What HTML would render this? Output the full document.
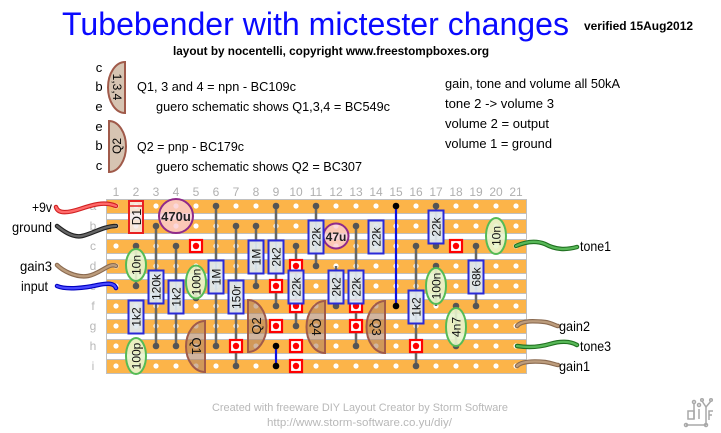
<!DOCTYPE html>
<html><head><meta charset="utf-8"><style>
html,body{margin:0;padding:0;background:#fff;}
svg{display:block;}
text{font-family:"Liberation Sans",Arial,sans-serif;}
</style></head><body>
<svg width="721" height="433" viewBox="0 0 721 433" xmlns="http://www.w3.org/2000/svg">
<rect width="721" height="433" fill="#fff"/>

<!-- Header -->
<text x="62" y="35" font-size="32" fill="#0a0aff" textLength="507" lengthAdjust="spacingAndGlyphs">Tubebender with mictester changes</text>
<text x="584" y="30" font-size="12" font-weight="bold" fill="#000" textLength="109" lengthAdjust="spacingAndGlyphs">verified 15Aug2012</text>
<text x="173" y="55" font-size="12" font-weight="bold" fill="#000" textLength="316" lengthAdjust="spacingAndGlyphs">layout by nocentelli, copyright www.freestompboxes.org</text>

<!-- Legend -->
<g font-size="13" fill="#000" text-anchor="middle">
<text x="99" y="72">c</text><text x="99" y="91">b</text><text x="99" y="111">e</text>
<text x="99" y="131">e</text><text x="99" y="150">b</text><text x="99" y="170">c</text>
</g>
<path d="M125,62 A17,25.5 0 0 0 125,113 Z" fill="#d6c4b2" stroke="#a05a4a" stroke-width="2"/>
<text transform="translate(117,87) rotate(90)" font-size="12" text-anchor="middle" y="4">1,3,4</text>
<path d="M109,121 A17,25.5 0 0 1 109,172 Z" fill="#d6c4b2" stroke="#a05a4a" stroke-width="2"/>
<text transform="translate(117,146) rotate(-90)" font-size="12" text-anchor="middle" y="4">Q2</text>
<g font-size="13" fill="#000">
<text x="137" y="91" textLength="159" lengthAdjust="spacingAndGlyphs">Q1, 3 and 4 = npn - BC109c</text>
<text x="156" y="111" textLength="234" lengthAdjust="spacingAndGlyphs">guero schematic shows Q1,3,4 = BC549c</text>
<text x="137" y="151" textLength="107" lengthAdjust="spacingAndGlyphs">Q2 = pnp - BC179c</text>
<text x="156" y="171" textLength="206" lengthAdjust="spacingAndGlyphs">guero schematic shows Q2 = BC307</text>
<text x="445" y="88" textLength="175" lengthAdjust="spacingAndGlyphs">gain, tone and volume all 50kA</text>
<text x="445" y="108" textLength="109" lengthAdjust="spacingAndGlyphs">tone 2 -&gt; volume 3</text>
<text x="445" y="128" textLength="104" lengthAdjust="spacingAndGlyphs">volume 2 = output</text>
<text x="445" y="148" textLength="107" lengthAdjust="spacingAndGlyphs">volume 1 = ground</text>
</g>

<!-- Column labels -->
<g font-size="12" fill="#b0b0b0" text-anchor="middle">
<text x="116" y="196">1</text><text x="136" y="196">2</text><text x="156" y="196">3</text><text x="176" y="196">4</text><text x="196" y="196">5</text><text x="216" y="196">6</text><text x="236" y="196">7</text><text x="256" y="196">8</text><text x="276" y="196">9</text><text x="296" y="196">10</text><text x="316" y="196">11</text><text x="336" y="196">12</text><text x="356" y="196">13</text><text x="376" y="196">14</text><text x="396" y="196">15</text><text x="416" y="196">16</text><text x="436" y="196">17</text><text x="456" y="196">18</text><text x="476" y="196">19</text><text x="496" y="196">20</text><text x="516" y="196">21</text>
</g>
<g font-size="12" fill="#b8b8b8" text-anchor="middle">
<text x="93" y="210">a</text><text x="93" y="230">b</text><text x="93" y="250">c</text><text x="93" y="270">d</text><text x="93" y="290">e</text><text x="93" y="310">f</text><text x="93" y="330">g</text><text x="93" y="350">h</text><text x="93" y="370">i</text>
</g>

<!-- Board -->
<rect x="106.5" y="199.5" width="420" height="173" fill="#fff" stroke="#c0c0c0" stroke-width="1"/>
<g fill="#fcb449" stroke="#c0c0c0" stroke-width="1">
<rect x="106.5" y="199.5" width="420" height="14"/>
<rect x="106.5" y="219.5" width="420" height="14"/>
<rect x="106.5" y="239.5" width="420" height="14"/>
<rect x="106.5" y="259.5" width="420" height="14"/>
<rect x="106.5" y="279.5" width="420" height="14"/>
<rect x="106.5" y="299.5" width="420" height="14"/>
<rect x="106.5" y="319.5" width="420" height="14"/>
<rect x="106.5" y="339.5" width="420" height="14"/>
<rect x="106.5" y="359.5" width="420" height="14"/>
</g>
<!-- Holes -->
<defs>
<g id="hrow">
<circle cx="116" cy="0" r="2.6"/><circle cx="136" cy="0" r="2.6"/><circle cx="156" cy="0" r="2.6"/><circle cx="176" cy="0" r="2.6"/><circle cx="196" cy="0" r="2.6"/><circle cx="216" cy="0" r="2.6"/><circle cx="236" cy="0" r="2.6"/><circle cx="256" cy="0" r="2.6"/><circle cx="276" cy="0" r="2.6"/><circle cx="296" cy="0" r="2.6"/><circle cx="316" cy="0" r="2.6"/><circle cx="336" cy="0" r="2.6"/><circle cx="356" cy="0" r="2.6"/><circle cx="376" cy="0" r="2.6"/><circle cx="396" cy="0" r="2.6"/><circle cx="416" cy="0" r="2.6"/><circle cx="436" cy="0" r="2.6"/><circle cx="456" cy="0" r="2.6"/><circle cx="476" cy="0" r="2.6"/><circle cx="496" cy="0" r="2.6"/><circle cx="516" cy="0" r="2.6"/>
</g>
</defs>
<g fill="#fff">
<use href="#hrow" y="206"/><use href="#hrow" y="226"/><use href="#hrow" y="246"/><use href="#hrow" y="266"/><use href="#hrow" y="286"/><use href="#hrow" y="306"/><use href="#hrow" y="326"/><use href="#hrow" y="346"/><use href="#hrow" y="366"/>
</g>

<!-- Leads -->
<g stroke="#666" stroke-width="2.5">
<line x1="156" y1="226" x2="156" y2="346"/>
<line x1="176" y1="246" x2="176" y2="346"/>
<line x1="216" y1="206" x2="216" y2="346"/>
<line x1="236" y1="226" x2="236" y2="366"/>
<line x1="256" y1="226" x2="256" y2="286"/>
<line x1="276" y1="206" x2="276" y2="306"/>
<line x1="296" y1="246" x2="296" y2="326"/>
<line x1="316" y1="206" x2="316" y2="266"/>
<line x1="336" y1="266" x2="336" y2="306"/>
<line x1="356" y1="226" x2="356" y2="346"/>
<line x1="376" y1="226" x2="376" y2="246"/>
<line x1="416" y1="246" x2="416" y2="366"/>
<line x1="436" y1="206" x2="436" y2="246"/>
<line x1="476" y1="246" x2="476" y2="306"/>
<line x1="136" y1="246" x2="136" y2="286"/>
<line x1="196" y1="266" x2="196" y2="298"/>
<line x1="436" y1="266" x2="436" y2="306"/>
<line x1="456" y1="306" x2="456" y2="346"/>
</g>
<g fill="#555">
<circle cx="156" cy="226" r="3.3"/><circle cx="156" cy="346" r="3.3"/>
<circle cx="176" cy="246" r="3.3"/><circle cx="176" cy="346" r="3.3"/>
<circle cx="216" cy="206" r="3.3"/><circle cx="216" cy="346" r="3.3"/>
<circle cx="236" cy="226" r="3.3"/><circle cx="236" cy="366" r="3.3"/>
<circle cx="256" cy="226" r="3.3"/><circle cx="256" cy="286" r="3.3"/>
<circle cx="276" cy="206" r="3.3"/><circle cx="276" cy="306" r="3.3"/>
<circle cx="296" cy="246" r="3.3"/><circle cx="296" cy="326" r="3.3"/>
<circle cx="316" cy="206" r="3.3"/><circle cx="316" cy="266" r="3.3"/>
<circle cx="336" cy="306" r="3.3"/>
<circle cx="356" cy="226" r="3.3"/><circle cx="356" cy="346" r="3.3"/>
<circle cx="416" cy="246" r="3.3"/><circle cx="416" cy="366" r="3.3"/>
<circle cx="436" cy="206" r="3.3"/><circle cx="436" cy="246" r="3.3"/>
<circle cx="476" cy="246" r="3.3"/><circle cx="476" cy="306" r="3.3"/>
<circle cx="136" cy="246" r="3.3"/><circle cx="136" cy="286" r="3.3"/>
<circle cx="196" cy="298" r="3.3"/>
<circle cx="436" cy="266" r="3.3"/>
<circle cx="456" cy="306" r="3.3"/><circle cx="456" cy="346" r="3.3"/>
</g>

<!-- Track cuts -->
<defs>
<g id="cut"><rect x="-6" y="-6" width="12" height="12" fill="#fff" stroke="#f00" stroke-width="2.2"/><circle r="3.2" fill="#f00"/></g>
</defs>
<use href="#cut" x="196" y="246"/>
<use href="#cut" x="236" y="346"/>
<use href="#cut" x="276" y="286"/>
<use href="#cut" x="276" y="326"/>
<use href="#cut" x="296" y="266"/>
<use href="#cut" x="296" y="306"/>
<use href="#cut" x="296" y="346"/>
<use href="#cut" x="296" y="366"/>
<use href="#cut" x="356" y="306"/>
<use href="#cut" x="356" y="326"/>
<use href="#cut" x="416" y="346"/>
<use href="#cut" x="456" y="246"/>

<!-- Jumpers -->
<g stroke="#1010e0" stroke-width="2.2"><line x1="276" y1="346" x2="276" y2="366"/><line x1="396" y1="206" x2="396" y2="306"/></g>
<g fill="#000"><circle cx="276" cy="346" r="3.3"/><circle cx="276" cy="366" r="3.3"/><circle cx="396" cy="206" r="3.3"/><circle cx="396" cy="306" r="3.3"/></g>

<!-- Transistors -->
<g fill="rgba(180,135,100,0.62)" stroke="#a05a4a" stroke-width="2">
<path d="M205,321 A19,25.5 0 0 0 205,372 Z"/>
<path d="M248,300 A18.5,26 0 0 1 248,352 Z"/>
<path d="M325,301 A18.5,26 0 0 0 325,353 Z"/>
<path d="M385,301 A18.5,26 0 0 0 385,353 Z"/>
</g>
<g font-size="13" fill="#111" text-anchor="middle">
<text transform="translate(197,346) rotate(90)" y="5">Q1</text>
<text transform="translate(256,326) rotate(-90)" y="5">Q2</text>
<text transform="translate(317,327) rotate(90)" y="5">Q4</text>
<text transform="translate(377,327) rotate(90)" y="5">Q3</text>
</g>

<!-- Diode -->
<rect x="129" y="201" width="14" height="32" fill="rgba(245,235,235,0.85)" stroke="#e82020" stroke-width="2"/>
<line x1="130" y1="206" x2="142" y2="206" stroke="#e82020" stroke-width="1.5"/>
<text transform="translate(136,217) rotate(-90)" font-size="13" text-anchor="middle" y="5" fill="#111">D1</text>

<!-- Electrolytics -->
<circle cx="176" cy="216" r="17" fill="rgba(250,205,210,0.8)" stroke="#902a8a" stroke-width="2"/>
<text x="176" y="221" font-size="13" font-weight="bold" text-anchor="middle" fill="#222">470u</text>
<circle cx="336" cy="236" r="12.5" fill="rgba(250,205,210,0.8)" stroke="#902a8a" stroke-width="2"/>
<text x="336" y="241" font-size="12" font-weight="bold" text-anchor="middle" fill="#222">47u</text>

<!-- Ceramic caps -->
<g fill="rgba(232,244,205,0.9)" stroke="#55bb55" stroke-width="2">
<ellipse cx="136" cy="265" rx="10" ry="16"/>
<ellipse cx="136" cy="356" rx="10" ry="18"/>
<ellipse cx="196" cy="282" rx="10" ry="16.5"/>
<ellipse cx="436" cy="286" rx="10" ry="18"/>
<ellipse cx="456" cy="327" rx="10" ry="19"/>
<ellipse cx="496" cy="236" rx="10" ry="18"/>
</g>
<g font-size="12" fill="#111" text-anchor="middle">
<text transform="translate(136,265) rotate(-90)" y="4.5">10n</text>
<text transform="translate(136,356) rotate(-90)" y="4.5">100p</text>
<text transform="translate(196,282) rotate(-90)" y="4.5">100n</text>
<text transform="translate(436,286) rotate(-90)" y="4.5">100n</text>
<text transform="translate(456,327) rotate(-90)" y="4.5">4n7</text>
<text transform="translate(496,236) rotate(-90)" y="4.5">10n</text>
</g>

<!-- Resistors -->
<g fill="rgba(222,232,240,0.92)" stroke="#2a2ad8" stroke-width="2">
<rect x="128.5" y="300.5" width="15" height="33"/>
<rect x="148.5" y="270.5" width="15" height="33"/>
<rect x="168.5" y="280.5" width="15" height="33"/>
<rect x="208.5" y="260.5" width="15" height="33"/>
<rect x="228.5" y="280.5" width="15" height="33"/>
<rect x="248.5" y="240.5" width="15" height="33"/>
<rect x="268.5" y="240.5" width="15" height="33"/>
<rect x="288.5" y="270.5" width="15" height="33"/>
<rect x="308.5" y="220.5" width="15" height="33"/>
<rect x="328.5" y="270.5" width="15" height="33"/>
<rect x="348.5" y="270.5" width="15" height="33"/>
<rect x="368.5" y="220.5" width="15" height="33"/>
<rect x="408.5" y="290.5" width="15" height="33"/>
<rect x="428.5" y="210.5" width="15" height="33"/>
<rect x="468.5" y="260.5" width="15" height="33"/>
</g>
<g font-size="12" fill="#111" text-anchor="middle">
<text transform="translate(136,317) rotate(-90)" y="4.5">1k2</text>
<text transform="translate(156,287) rotate(-90)" y="4.5">120k</text>
<text transform="translate(176,297) rotate(-90)" y="4.5">1k2</text>
<text transform="translate(216,277) rotate(-90)" y="4.5">1M</text>
<text transform="translate(236,297) rotate(-90)" y="4.5">150r</text>
<text transform="translate(256,257) rotate(-90)" y="4.5">1M</text>
<text transform="translate(276,257) rotate(-90)" y="4.5">2k2</text>
<text transform="translate(296,287) rotate(-90)" y="4.5">22k</text>
<text transform="translate(316,237) rotate(-90)" y="4.5">22k</text>
<text transform="translate(336,287) rotate(-90)" y="4.5">2k2</text>
<text transform="translate(356,287) rotate(-90)" y="4.5">22k</text>
<text transform="translate(376,237) rotate(-90)" y="4.5">22k</text>
<text transform="translate(416,307) rotate(-90)" y="4.5">1k2</text>
<text transform="translate(436,227) rotate(-90)" y="4.5">22k</text>
<text transform="translate(476,277) rotate(-90)" y="4.5">68k</text>
</g>

<!-- Off-board wires -->
<g fill="none" stroke-linecap="round">
<path d="M56,207 C58,214 68,213 80,209 C92,205 104,201 116,206" stroke="#d02020" stroke-width="4.5"/>
<path d="M56,207 C58,214 68,213 80,209 C92,205 104,201 116,206" stroke="#ff6a6a" stroke-width="2.3"/>
<path d="M57,226 C62,230 72,238 82,236 C92,234 104,226 116,226" stroke="#202020" stroke-width="4.5"/>
<path d="M57,226 C62,230 72,238 82,236 C92,234 104,226 116,226" stroke="#666" stroke-width="2.3"/>
<path d="M57,265 C62,270 75,278 88,276 C100,274 110,262 116,266" stroke="#8a6a50" stroke-width="4.5"/>
<path d="M57,265 C62,270 75,278 88,276 C100,274 110,262 116,266" stroke="#bc9c7c" stroke-width="2.3"/>
<path d="M57,286 C66,290 85,288 98,285 C108,283 114,283 116,288" stroke="#0000c0" stroke-width="4.5"/>
<path d="M57,286 C66,290 85,288 98,285 C108,283 114,283 116,288" stroke="#4a4aff" stroke-width="2.3"/>
<path d="M516,246 C525,242 535,240 545,244 C556,250 566,250 577,247" stroke="#207020" stroke-width="4.5"/>
<path d="M516,246 C525,242 535,240 545,244 C556,250 566,250 577,247" stroke="#58b858" stroke-width="2.3"/>
<path d="M517,326 C522,320 535,321 545,322 C552,323 556,326 558,326" stroke="#8a6a50" stroke-width="4.5"/>
<path d="M517,326 C522,320 535,321 545,322 C552,323 556,326 558,326" stroke="#bc9c7c" stroke-width="2.3"/>
<path d="M517,346 C530,348 540,347 550,344 C560,341 570,341 577,345" stroke="#207020" stroke-width="4.5"/>
<path d="M517,346 C530,348 540,347 550,344 C560,341 570,341 577,345" stroke="#58b858" stroke-width="2.3"/>
<path d="M517,366 C522,361 535,361 545,362 C552,363 556,365 558,365" stroke="#8a6a50" stroke-width="4.5"/>
<path d="M517,366 C522,361 535,361 545,362 C552,363 556,365 558,365" stroke="#bc9c7c" stroke-width="2.3"/>
</g>

<!-- Wire labels -->
<g font-size="14" fill="#000">
<text x="52" y="212" text-anchor="end" textLength="20" lengthAdjust="spacingAndGlyphs">+9v</text>
<text x="52" y="232" text-anchor="end" textLength="40" lengthAdjust="spacingAndGlyphs">ground</text>
<text x="52" y="271" text-anchor="end" textLength="32" lengthAdjust="spacingAndGlyphs">gain3</text>
<text x="48" y="291" text-anchor="end" textLength="27" lengthAdjust="spacingAndGlyphs">input</text>
<text x="580" y="251" textLength="31" lengthAdjust="spacingAndGlyphs">tone1</text>
<text x="559" y="331" textLength="31" lengthAdjust="spacingAndGlyphs">gain2</text>
<text x="580" y="351" textLength="31" lengthAdjust="spacingAndGlyphs">tone3</text>
<text x="559" y="371" textLength="31" lengthAdjust="spacingAndGlyphs">gain1</text>
</g>

<!-- Footer -->
<g font-size="11" fill="#b8b8b8">
<text x="212" y="411" textLength="296" lengthAdjust="spacingAndGlyphs">Created with freeware DIY Layout Creator by Storm Software</text>
<text x="267" y="426" textLength="185" lengthAdjust="spacingAndGlyphs">http://www.storm-software.co.yu/diy/</text>
</g>

<!-- Logo -->
<g stroke="#a8a8a8" stroke-width="1.5" fill="none">
<rect x="688" y="411" width="6" height="8"/>
<line x1="694" y1="404" x2="694" y2="419"/>
<circle cx="694" cy="402" r="1.5"/>
<line x1="699" y1="409" x2="699" y2="419"/>
<circle cx="699" cy="405" r="1.5"/>
<line x1="702" y1="401" x2="706" y2="407"/>
<line x1="711" y1="401" x2="706" y2="407"/>
<line x1="706" y1="407" x2="706" y2="425"/>
<circle cx="702" cy="400" r="1.3"/><circle cx="711" cy="400" r="1.3"/>
<path d="M713,411 L709,411 L709,420 M709,415 L712,415"/>
<line x1="686" y1="425" x2="706" y2="425"/>
<circle cx="686" cy="425" r="1.5"/><circle cx="706" cy="425" r="1.5"/>
</g>
</svg>
</body></html>
